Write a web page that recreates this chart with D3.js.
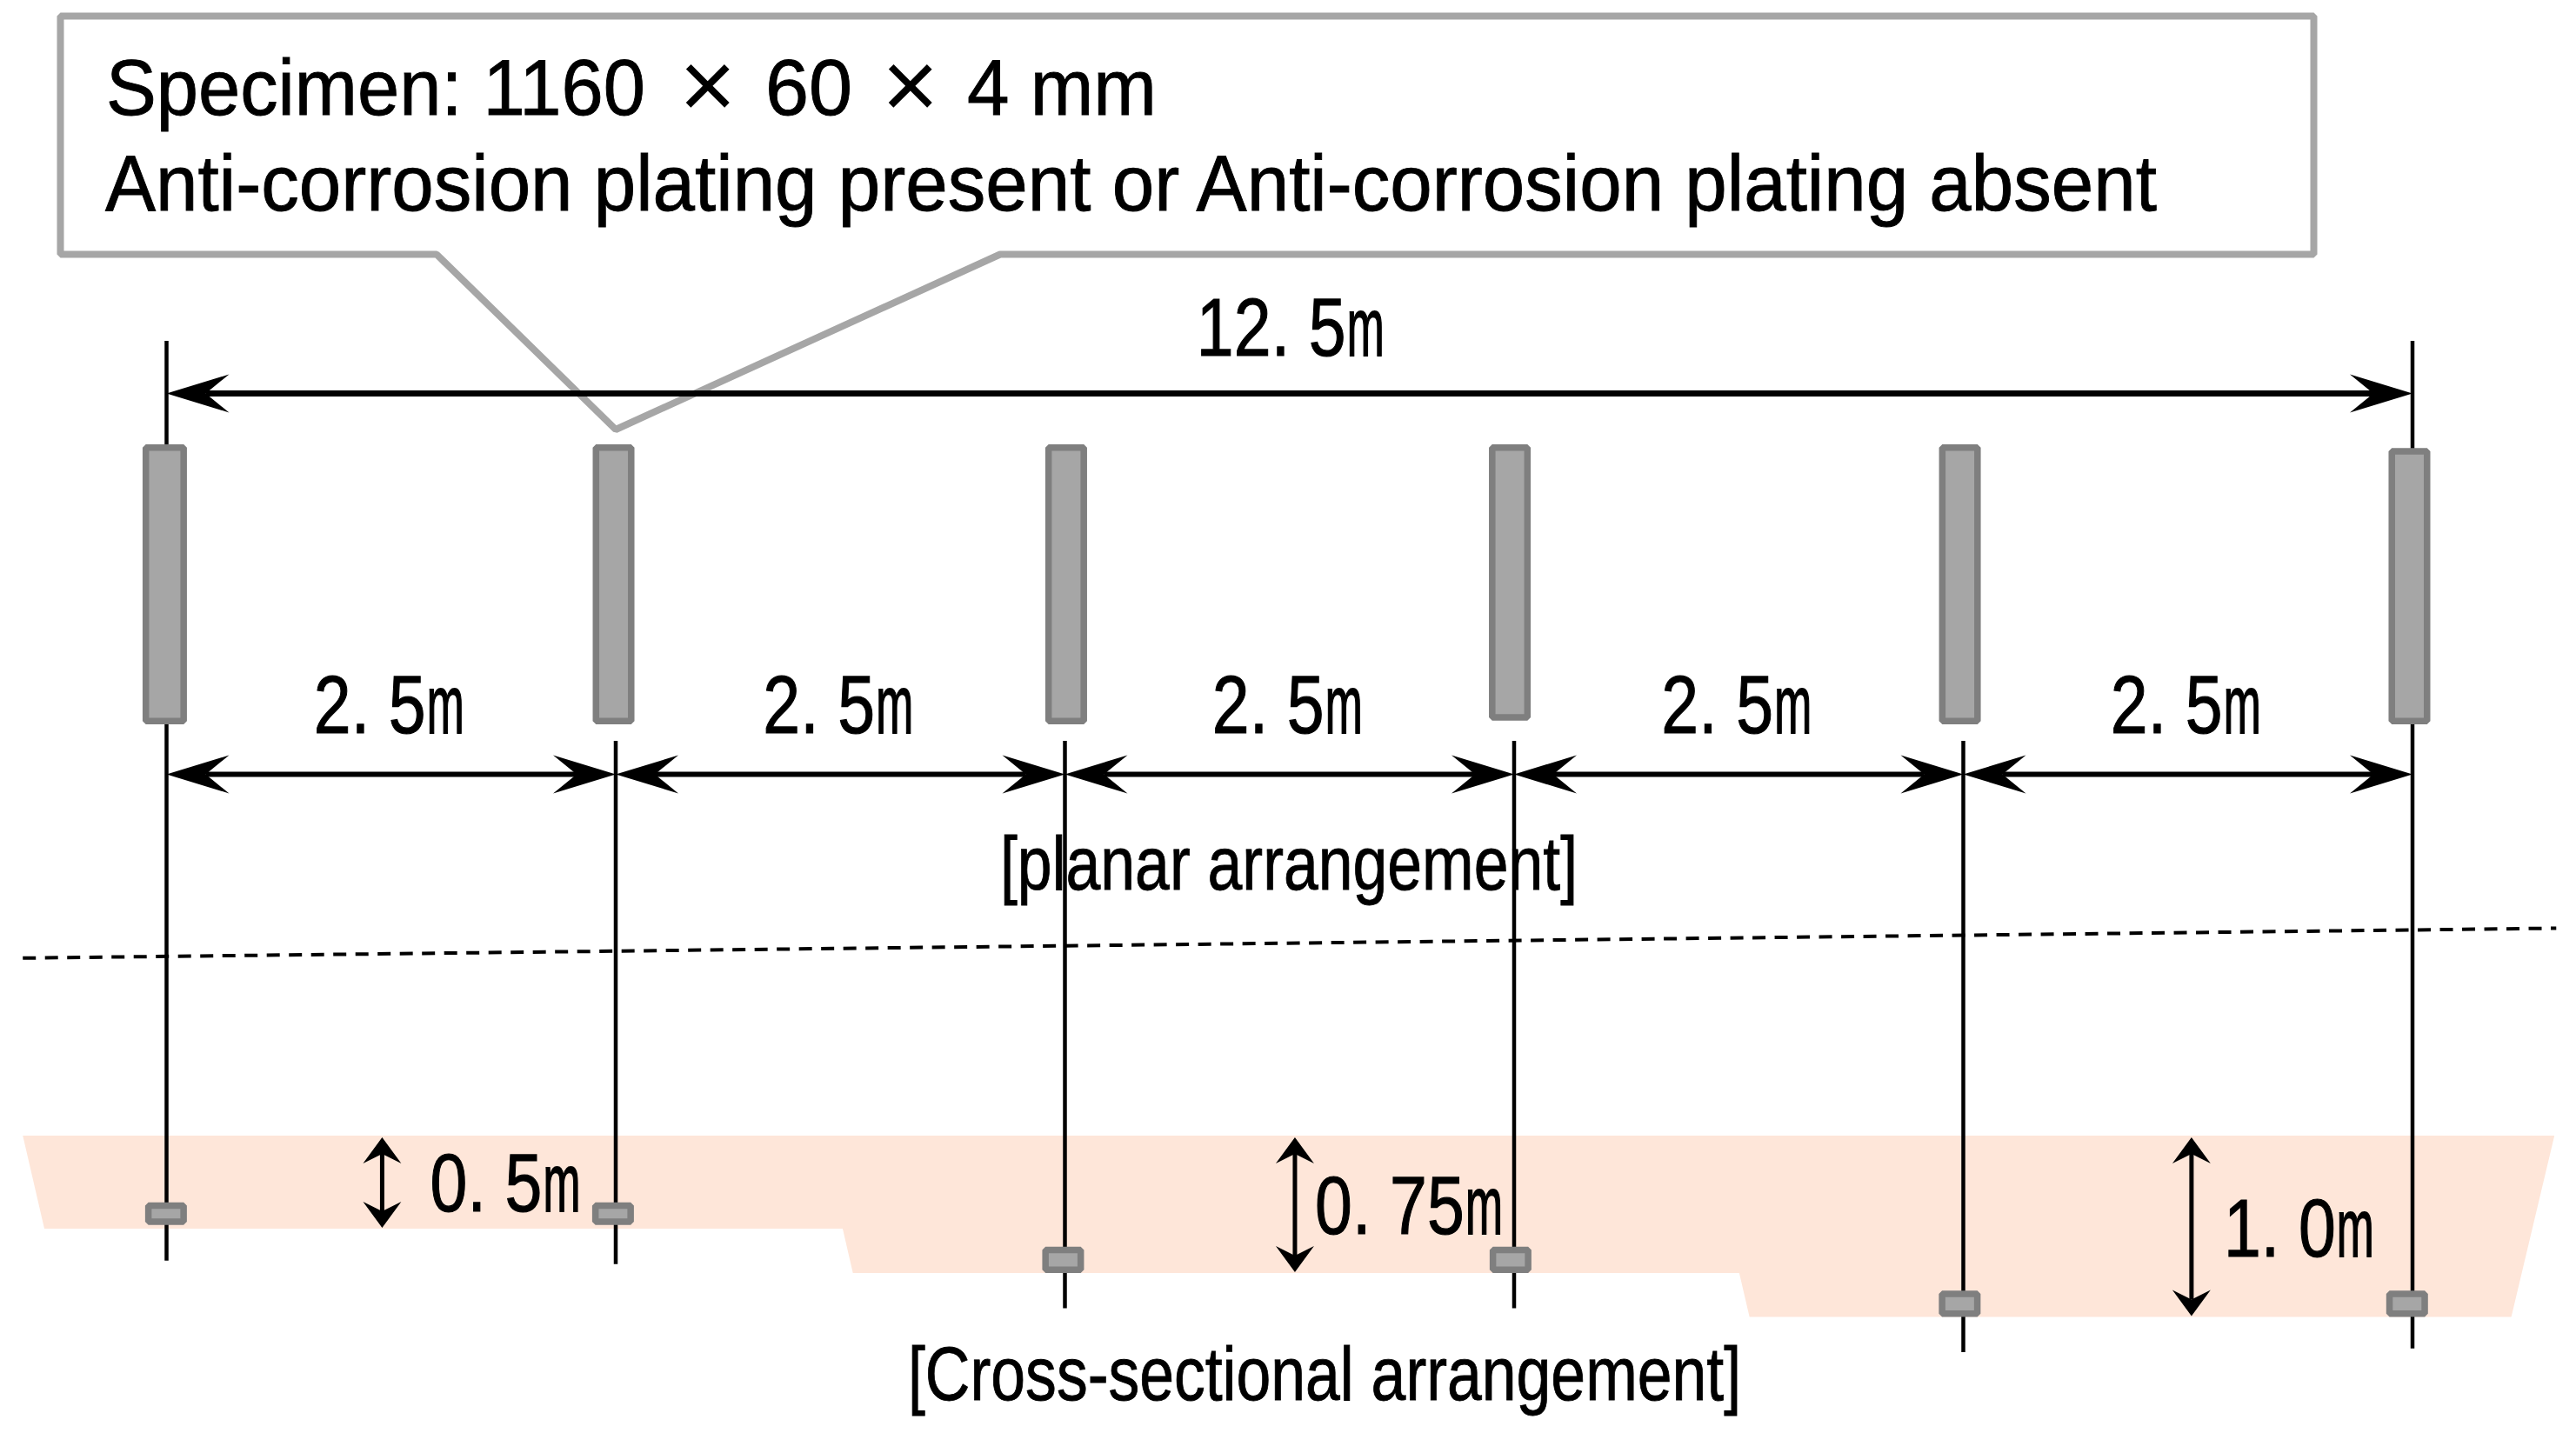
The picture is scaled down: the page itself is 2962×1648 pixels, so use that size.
<!DOCTYPE html>
<html>
<head>
<meta charset="utf-8">
<script src="https://cdnjs.cloudflare.com/ajax/libs/d3/7.8.5/d3.min.js"></script>
<style>
  html, body { margin: 0; background: #fff; }
  svg { display: block; }
  text { font-family: "Liberation Sans", Arial, sans-serif; fill: #000; stroke: #000; stroke-width: 0.9; }
  text.dim { stroke-width: 1.2; }
</style>
</head>
<body>
<div id="chart"></div>
<script>
// ---------- DATA (metres) ----------
const poleX = [0, 2.5, 5, 7.5, 10, 12.5];
const planSpecimenX = [-0.01, 2.488, 5.007, 7.476, 9.981, 12.483];
const planSpecimenTop = [0, 0, 0, 0, 0, 0.015];
const planSpecimenBottom = [1.16, 1.16, 1.16, 1.145, 1.16, 1.16];
const sectionSpecimenX = [-0.003, 2.485, 4.99, 7.48, 9.98, 12.47];
const sectionSpecimenDepth = [0.48, 0.48, 0.75, 0.75, 1, 1];
const sectionSpecimenThick = [0.125, 0.125, 0.145, 0.145, 0.145, 0.145];
const poleBottomDepth = [0.68, 0.7, 0.95, 0.95, 1.2, 1.18];
const depthLevels = [0.5, 0.75, 1.0];
const depthArrowX = [1.2, 6.28, 11.27];
const depthLabels = ["0.5m", "0.75m", "1.0m"];
const spanLabels = ["2.5m", "2.5m", "2.5m", "2.5m", "2.5m"];
const totalLabel = "12.5m";
const soilX = [-0.8, -0.68, 3.763, 3.82, 8.753, 8.81, 13.05, 13.29];
const soilDepth = [0, 0.5, 0.5, 0.75, 0.75, 1, 1, 0];
const waterX = [-0.8, 13.3];
const waterY = [-0.976, -1.14];
const calloutLines = ["Anti-corrosion plating present or Anti-corrosion plating absent"];
const planTitle = "[planar arrangement]";
const sectionTitle = "[Cross-sectional arrangement]";

// ---------- SCALES ----------
const W = 2962, H = 1648;
const x = d3.scaleLinear().domain([0, 12.5]).range([191.5, 2774]);
const depthY = d3.scaleLinear().domain([-1.14, 0, 0.5, 0.75, 1]).range([1067.5, 1306, 1413, 1464, 1514.5]);
const planY = d3.scaleLinear().domain([0, 1.16]).range([511, 833]);

const svg = d3.select("#chart").append("svg").attr("width", W).attr("height", H)
  .attr("viewBox", `0 0 ${W} ${H}`);

const line = d3.line();

// ---------- SOIL ----------
svg.append("path")
  .attr("d", line(soilX.map((d, i) => [x(d), depthY(soilDepth[i])])) + "Z")
  .attr("fill", "#fee6d9");

// ---------- WATER / GROUND LINE ----------
svg.append("path")
  .attr("d", line(waterX.map((d, i) => [x(d), depthY(waterY[i])])))
  .attr("fill", "none").attr("stroke", "#000").attr("stroke-width", 4)
  .attr("stroke-dasharray", "15 10.5");

// ---------- POLES ----------
const poleTop = [392, 852, 852, 852, 852, 392];
svg.selectAll(".pole").data(poleX).enter().append("line")
  .attr("class", "pole")
  .attr("x1", d => x(d)).attr("x2", d => x(d))
  .attr("y1", (d, i) => poleTop[i])
  .attr("y2", (d, i) => depthY(poleBottomDepth[i]))
  .attr("stroke", "#000").attr("stroke-width", 4.5);

// ---------- CALLOUT ----------
svg.append("path")
  .attr("d", line([[69.5, 18.5], [2660.5, 18.5], [2660.5, 292.5], [1150, 292.5], [708, 494], [502, 292.5], [69.5, 292.5]]) + "Z")
  .attr("fill", "none").attr("stroke", "#a6a6a6").attr("stroke-width", 8)
  .attr("stroke-linejoin", "bevel");

// first line, pieces placed one by one because of the wide multiply signs
const spec = svg.append("text").attr("y", 132).attr("font-size", 90);
spec.append("tspan").attr("x", 122).attr("textLength", 620).attr("lengthAdjust", "spacingAndGlyphs").text("Specimen: 1160");
spec.append("tspan").text(" ");
spec.append("tspan").attr("x", 781).attr("font-size", 112).attr("dy", 4).style("stroke-width", 0).text("\u00d7");
spec.append("tspan").text(" ");
spec.append("tspan").attr("x", 880).attr("dy", -4).text("60");
spec.append("tspan").text(" ");
spec.append("tspan").attr("x", 1014).attr("font-size", 112).attr("dy", 4).style("stroke-width", 0).text("\u00d7");
spec.append("tspan").text(" ");
spec.append("tspan").attr("x", 1112).attr("dy", -4).attr("textLength", 218).attr("lengthAdjust", "spacingAndGlyphs").text("4 mm");

svg.selectAll(".callout").data(calloutLines).enter().append("text")
  .attr("class", "callout")
  .attr("x", 121).attr("y", 242).attr("font-size", 90)
  .attr("textLength", 2359).attr("lengthAdjust", "spacingAndGlyphs")
  .text(d => d);

// ---------- SPECIMENS ----------
const specStroke = "#7f7f7f", specFill = "#a6a6a6";
function specimen(sel, cx, w, y0, y1) {
  const sw = 7.5;
  sel.append("rect")
    .attr("x", cx - w / 2 + sw / 2).attr("width", w - sw)
    .attr("y", y0 + sw / 2).attr("height", y1 - y0 - sw)
    .attr("fill", specFill).attr("stroke", specStroke).attr("stroke-width", sw)
    .attr("stroke-linejoin", "bevel");
}
planSpecimenX.forEach((d, i) => specimen(svg, x(d), i === 0 ? 51 : 48, planY(planSpecimenTop[i]), planY(planSpecimenBottom[i])));
sectionSpecimenX.forEach((d, i) => specimen(svg, x(d), 48, depthY(sectionSpecimenDepth[i]) - sectionSpecimenThick[i] * 208, depthY(sectionSpecimenDepth[i])));

// ---------- DIMENSION ARROWS ----------
function arrowHead(px, py, dx, dy, L, Hw, N) {
  // tip at px,py, pointing along dx,dy
  const nx = -dy, ny = dx;
  return line([
    [px, py],
    [px - dx * L + nx * Hw, py - dy * L + ny * Hw],
    [px - dx * N, py - dy * N],
    [px - dx * L - nx * Hw, py - dy * L - ny * Hw]
  ]) + "Z";
}
function dimArrow(x1, y1, x2, y2, sw, L, Hw, N) {
  const horiz = y1 === y2;
  svg.append("line")
    .attr("x1", x1 + (horiz ? N : 0)).attr("y1", y1 + (horiz ? 0 : N))
    .attr("x2", x2 - (horiz ? N : 0)).attr("y2", y2 - (horiz ? 0 : N))
    .attr("stroke", "#000").attr("stroke-width", sw);
  svg.append("path").attr("d", arrowHead(x2, y2, horiz ? 1 : 0, horiz ? 0 : 1, L, Hw, N));
  svg.append("path").attr("d", arrowHead(x1, y1, horiz ? -1 : 0, horiz ? 0 : -1, L, Hw, N));
}

dimArrow(x(0), 452.5, x(12.5), 452.5, 7, 72, 22, 45);
d3.pairs(poleX).forEach(p => dimArrow(x(p[0]), 890.5, x(p[1]), 890.5, 6, 72, 22, 45));
depthLevels.forEach((d, i) => dimArrow(x(depthArrowX[i]), 1308, x(depthArrowX[i]), depthY(d) - 1, 5, 30, 22, 19));

// ---------- DIMENSION LABELS ----------
// half-width cell font in the original: squeezed digits on a fixed 43px pitch, the m squeezed harder
function dimLabel(label, x0, baseline) {
  const cell = 43, sx = 0.81;
  const nums = label.slice(0, -1);
  const t = svg.append("text").attr("class", "dim").attr("font-size", 95)
    .attr("transform", `translate(${x0},${baseline}) scale(${sx},1)`)
    .attr("x", nums.split("").map((c, i) => i * cell / sx).join(" "))
    .text(nums);
  t.append("tspan").attr("x", (nums.length * cell + 1) / sx)
    .attr("textLength", 43 / sx).attr("lengthAdjust", "spacingAndGlyphs")
    .style("stroke-width", 1.8)
    .text("m");
}
dimLabel(totalLabel, x(6.25) - 107, 409);
d3.pairs(poleX).forEach((p, i) => dimLabel(spanLabels[i], x((p[0] + p[1]) / 2) - 89, 843));
dimLabel(depthLabels[0], x(depthArrowX[0]) + 55, 1393);
dimLabel(depthLabels[1], x(depthArrowX[1]) + 23, 1419);
dimLabel(depthLabels[2], x(depthArrowX[2]) + 37, 1445);

// ---------- TITLES ----------
svg.append("text").attr("x", 1150).attr("y", 1023).attr("font-size", 88)
  .attr("textLength", 664).attr("lengthAdjust", "spacingAndGlyphs").text(planTitle);
svg.append("text").attr("x", 1044).attr("y", 1610).attr("font-size", 88)
  .attr("textLength", 958).attr("lengthAdjust", "spacingAndGlyphs").text(sectionTitle);
</script>
</body>
</html>
